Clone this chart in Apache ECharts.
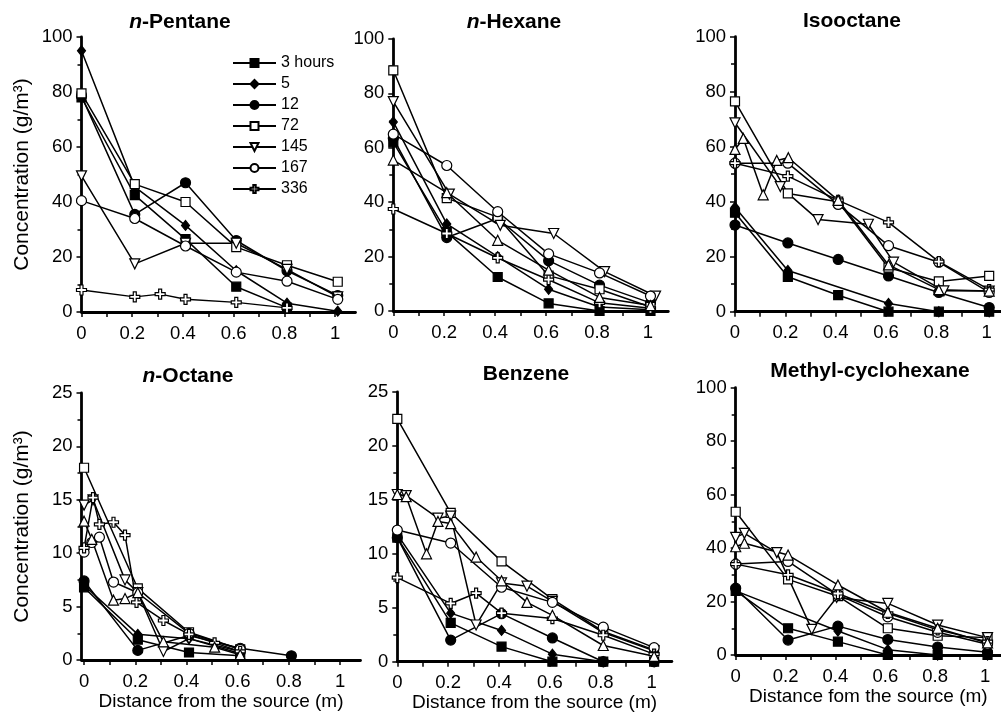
<!DOCTYPE html>
<html><head><meta charset="utf-8">
<script src="https://cdn.jsdelivr.net/npm/echarts@6/dist/echarts.min.js"></script>
<style>html,body{margin:0;padding:0;background:#fff}#c{width:1001px;height:713px}</style>
</head><body><div id="c"></div>
<script>
// ---------- tick labels ----------
const xLabelValues = [0, 0.2, 0.4, 0.6, 0.8, 1];
const xTickValues = [0, 0.1, 0.2, 0.3, 0.4, 0.5, 0.6, 0.7, 0.8, 0.9, 1.0];
const legendNames = ['3 hours', '5', '12', '72', '145', '167', '336'];
const seriesKeys = ['h3', 'h5', 'h12', 'h72', 'h145', 'h167', 'h336', 'up'];

// ---------- n-Pentane ----------
const pen_h3   = [[0,78],[0.21,42.5],[0.41,26.5],[0.61,9.2],[0.81,1.6]];
const pen_h5   = [[0,95],[0.21,45.5],[0.41,31.5],[0.61,15],[0.81,3.2],[1.01,0.3]];
const pen_h12  = [[0,78.5],[0.21,35.5],[0.41,47],[0.61,26],[0.81,15],[1.01,6]];
const pen_h72  = [[0,79.5],[0.21,46.5],[0.41,40],[0.61,23.6],[0.81,17],[1.01,11]];
const pen_h145 = [[0,49.5],[0.21,17.5],[0.41,25],[0.61,25],[0.81,15.5],[1.01,5.5]];
const pen_h167 = [[0,40.5],[0.21,34],[0.41,24],[0.61,14.5],[0.81,11.2],[1.01,4.6]];
const pen_h336 = [[0,8],[0.21,5.5],[0.31,6.5],[0.41,4.6],[0.61,3.5],[0.81,1.5]];
const pen_up   = [];

// ---------- n-Hexane ----------
const hex_h3   = [[0,62],[0.21,29],[0.41,12.5],[0.61,2.8],[0.81,0],[1.01,0]];
const hex_h5   = [[0,69.5],[0.21,32],[0.41,20],[0.61,8],[0.81,1.5],[1.01,0.5]];
const hex_h12  = [[0,63.5],[0.21,27],[0.41,34],[0.61,18.5],[0.81,9.5],[1.01,3]];
const hex_h72  = [[0,88.5],[0.21,41.5],[0.41,34.5],[0.61,13],[0.81,8],[1.01,1.5]];
const hex_h145 = [[0,77],[0.22,43],[0.42,31.5],[0.63,28.5],[0.83,14.5],[1.03,5.5]];
const hex_h167 = [[0,65],[0.21,53.5],[0.41,36.5],[0.61,21],[0.81,14],[1.01,5.5]];
const hex_h336 = [[0,37.5],[0.21,28.5],[0.41,19.5],[0.61,11.5],[0.81,3],[1.01,1]];
const hex_up   = [[0,55.5],[0.21,43.5],[0.41,26],[0.61,15],[0.81,5],[1.01,2]];

// ---------- Isooctane ----------
const iso_h3   = [[0,36],[0.21,12.7],[0.41,6],[0.61,0],[0.81,0],[1.01,0]];
const iso_h5   = [[0,38],[0.21,15],[0.61,3],[0.81,0],[1.01,0]];
const iso_h12  = [[0,31.5],[0.21,25],[0.41,19],[0.61,13],[0.81,7],[1.01,1.5]];
const iso_h72  = [[0,76.5],[0.21,43],[0.41,40],[0.61,16],[0.81,11],[1.01,13]];
const iso_h145 = [[0,68.7],[0.18,45.5],[0.33,33.5],[0.53,31.8],[0.63,18],[0.83,7.6],[1.01,7.5]];
const iso_h167 = [[0,54],[0.21,54],[0.41,39],[0.61,24],[0.81,18],[1.01,7]];
const iso_h336 = [[0,54],[0.21,49.3],[0.41,40.5],[0.61,32.5],[0.81,18.2],[1.01,8]];
const iso_up   = [[0,59],[0.033,63],[0.112,42.5],[0.166,55],[0.212,56],[0.41,40.5],[0.61,17],[0.81,8],[1.01,7.5]];

// ---------- n-Octane ----------
const oct_h3   = [[0,6.8],[0.21,1.9],[0.41,0.7],[0.61,0.4]];
const oct_h5   = [[0,7],[0.21,2.4],[0.41,2.0],[0.61,0.8]];
const oct_h12  = [[0,7.4],[0.21,0.9],[0.41,2.3],[0.61,1.1],[0.81,0.4]];
const oct_h72  = [[0,18],[0.21,6.7],[0.41,2.6],[0.61,1.0]];
const oct_h145 = [[0,14.5],[0.035,15],[0.16,7.5],[0.21,6.3],[0.31,0.8],[0.41,2.0],[0.61,0.6]];
const oct_h167 = [[0,10.1],[0.03,11],[0.06,11.5],[0.115,7.3],[0.21,6.3],[0.41,2.5],[0.61,1.0]];
const oct_h336 = [[0,10.5],[0.035,15.2],[0.06,12.7],[0.115,12.9],[0.16,11.7],[0.205,5.4],[0.31,3.7],[0.41,2.4],[0.51,1.6],[0.61,0.8]];
const oct_up   = [[0,13],[0.03,11.3],[0.115,5.6],[0.16,5.75],[0.21,6.3],[0.31,1.7],[0.51,1.2],[0.61,0.5]];

// ---------- Benzene ----------
const ben_h3   = [[0,11.5],[0.21,3.6],[0.41,1.4],[0.61,0],[0.81,0],[1.01,0]];
const ben_h5   = [[0,11.8],[0.21,4.5],[0.41,2.9],[0.61,0.7],[0.81,0],[1.01,0]];
const ben_h12  = [[0,11.5],[0.21,2.0],[0.41,4.45],[0.61,2.2],[0.81,0],[1.01,0]];
const ben_h72  = [[0,22.5],[0.21,13.8],[0.41,9.3],[0.61,5.8],[0.81,2.8],[1.01,1.1]];
const ben_h145 = [[0,15.5],[0.035,15.4],[0.16,13.3],[0.21,13.5],[0.31,3.4],[0.41,7.3],[0.51,7.0],[0.61,5.6],[0.81,2.7],[1.01,1.0]];
const ben_h167 = [[0,12.2],[0.21,11.0],[0.41,6.9],[0.61,5.5],[0.81,3.2],[1.01,1.3]];
const ben_h336 = [[0,7.8],[0.21,5.4],[0.31,6.35],[0.41,4.5],[0.61,4.0],[0.81,2.45],[1.01,0.7]];
const ben_up   = [[0,15.5],[0.035,15.3],[0.115,10],[0.16,13],[0.21,12.8],[0.31,9.7],[0.41,7.5],[0.51,5.5],[0.61,4.3],[0.81,1.5],[1.01,0.5]];

// ---------- Methyl-cyclohexane ----------
const mch_h3   = [[0,24],[0.21,10],[0.41,5],[0.61,0],[0.81,0],[1.01,0]];
const mch_h5   = [[0,24],[0.41,9],[0.61,2],[0.81,0],[1.01,0]];
const mch_h12  = [[0,25],[0.21,5.6],[0.41,10.8],[0.61,5.8],[0.81,3],[1.01,1]];
const mch_h72  = [[0,53.6],[0.21,28.3],[0.41,22],[0.61,10],[0.81,7.2],[1.01,6.5]];
const mch_h145 = [[0,44],[0.035,45.5],[0.165,38.3],[0.305,9.6],[0.405,21.5],[0.61,19.3],[0.81,11.2],[1.01,6.5]];
const mch_h167 = [[0,34],[0.21,35],[0.41,22.5],[0.61,14.3],[0.81,8.5],[1.01,4]];
const mch_h336 = [[0,34],[0.21,30],[0.41,23],[0.61,15.6],[0.81,9.4],[1.01,5]];
const mch_up   = [[0,40.5],[0.035,41.8],[0.21,37.4],[0.41,26.2],[0.61,16],[0.81,10],[1.01,4.5]];

// ---------- layout / style (not data) ----------
const FF = '"Liberation Sans", Arial, Helvetica, sans-serif';
const panels = [
  {title:'{it|n}-Pentane', tx:180, ty:12, grid:{left:81.5,top:37,width:274,height:275}, xmin:0, xmax:1.08, ymax:100, ystep:20, yname:true, xname:null,
   data:{h3:pen_h3,h5:pen_h5,h12:pen_h12,h72:pen_h72,h145:pen_h145,h167:pen_h167,h336:pen_h336,up:pen_up}},
  {title:'{it|n}-Hexane', tx:514, ty:12, grid:{left:393.3,top:39,width:275,height:272}, xmin:0, xmax:1.08, ymax:100, ystep:20, yname:false, xname:null,
   data:{h3:hex_h3,h5:hex_h5,h12:hex_h12,h72:hex_h72,h145:hex_h145,h167:hex_h167,h336:hex_h336,up:hex_up}},
  {title:'Isooctane', tx:852, ty:11, grid:{left:735,top:36.7,width:266,height:275}, xmin:0, xmax:1.057, ymax:100, ystep:20, yname:false, xname:null,
   data:{h3:iso_h3,h5:iso_h5,h12:iso_h12,h72:iso_h72,h145:iso_h145,h167:iso_h167,h336:iso_h336,up:iso_up}},
  {title:'{it|n}-Octane', tx:188, ty:366, grid:{left:81.5,top:393,width:279,height:267}, xmin:-0.01, xmax:1.08, ymax:25, ystep:5, yname:true, xname:'Distance from the source (m)', ngap:26,
   data:{h3:oct_h3,h5:oct_h5,h12:oct_h12,h72:oct_h72,h145:oct_h145,h167:oct_h167,h336:oct_h336,up:oct_up}},
  {title:'Benzene', tx:526, ty:364, grid:{left:397.3,top:392,width:274.6,height:269.7}, xmin:0, xmax:1.08, ymax:25, ystep:5, yname:false, xname:'Distance from the source (m)', ngap:26,
   data:{h3:ben_h3,h5:ben_h5,h12:ben_h12,h72:ben_h72,h145:ben_h145,h167:ben_h167,h336:ben_h336,up:ben_up}},
  {title:'Methyl-cyclohexane', tx:870, ty:361, grid:{left:735.7,top:387.7,width:265.3,height:267.3}, xmin:0, xmax:1.064, ymax:100, ystep:20, yname:false, xname:'Distance fom the source (m)', ngap:24,
   data:{h3:mch_h3,h5:mch_h5,h12:mch_h12,h72:mch_h72,h145:mch_h145,h167:mch_h167,h336:mch_h336,up:mch_up}}
];

const plusPath = 'path://M3.5,0H6.5V3.5H10V6.5H6.5V10H3.5V6.5H0V3.5H3.5Z';
const styles = {
  h3:   {name:'3 hours', symbol:'rect', size:9, fill:'#000'},
  h5:   {name:'5', symbol:'diamond', size:[8,10], fill:'#000'},
  h12:  {name:'12', symbol:'circle', size:10, fill:'#000'},
  h72:  {name:'72', symbol:'rect', size:9, fill:'#fff'},
  h145: {name:'145', symbol:'triangle', size:10, fill:'#fff', rotate:180},
  h167: {name:'167', symbol:'circle', size:10, fill:'#fff'},
  h336: {name:'336', symbol:plusPath, size:10, fill:'#fff'},
  up:   {name:'other', symbol:'triangle', size:10, fill:'#fff'}
};

const grids = [], xAxes = [], yAxes = [], series = [], titles = [];
panels.forEach((p, i) => {
  grids.push(Object.assign({outerBoundsMode:'none', containLabel:false}, p.grid));
  titles.push({
    text: p.title, left: p.tx, top: p.ty, textAlign: 'center', padding: 0,
    textStyle: {fontFamily: FF, fontSize: 21, fontWeight: 'bold', color: '#000',
      rich: {it: {fontFamily: FF, fontSize: 21, fontWeight: 'bold', fontStyle: 'italic', color: '#000'}}}
  });
  xAxes.push({
    type: 'value', gridIndex: i, min: p.xmin, max: p.xmax,
    axisLine: {show: true, onZero: false, lineStyle: {color: '#000', width: 2.8}},
    axisTick: {show: true, customValues: xTickValues, length: 5, lineStyle: {color: '#000', width: 1.5}},
    axisLabel: {customValues: xLabelValues, margin: 12, fontFamily: FF, fontSize: 18.5, color: '#000',
      formatter: v => String(Math.round(v * 10) / 10)},
    splitLine: {show: false},
    name: p.xname || '', nameLocation: 'middle', nameGap: p.ngap || 0,
    nameTextStyle: {fontFamily: FF, fontSize: 19, color: '#000'}
  });
  yAxes.push({
    type: 'value', gridIndex: i, min: 0, max: p.ymax, interval: p.ystep,
    axisLine: {show: true, onZero: false, lineStyle: {color: '#000', width: 2.8}},
    axisTick: {show: true, length: 5, lineStyle: {color: '#000', width: 1.5}},
    minorTick: {show: true, splitNumber: 2, length: 4, lineStyle: {color: '#000', width: 1.5}},
    axisLabel: {margin: 9, fontFamily: FF, fontSize: 18.5, color: '#000'},
    splitLine: {show: false},
    name: p.yname ? 'Concentration (g/m³)' : '', nameLocation: 'middle', nameGap: 49,
    nameTextStyle: {fontFamily: FF, fontSize: 21, color: '#000'}
  });
  seriesKeys.forEach(k => {
    const s = styles[k];
    const d = p.data[k];
    if (!d || !d.length) return;
    series.push({
      type: 'line', name: s.name, xAxisIndex: i, yAxisIndex: i, data: d,
      symbol: s.symbol, symbolSize: s.size, symbolRotate: s.rotate || 0,
      showAllSymbol: true, clip: false, animation: false, silent: true,
      lineStyle: {color: '#000', width: 1.5},
      itemStyle: {color: s.fill, borderColor: '#000', borderWidth: 1.2}
    });
  });
});

const chart = echarts.init(document.getElementById('c'), null, {renderer: 'canvas'});
chart.setOption({
  backgroundColor: '#fff',
  animation: false,
  title: titles,
  legend: {
    data: legendNames, orient: 'vertical', left: 232, top: 55, padding: 0,
    itemWidth: 43, itemHeight: 10, itemGap: 5,
    textStyle: {fontFamily: FF, fontSize: 16, color: '#000'},
    selectedMode: false
  },
  grid: grids, xAxis: xAxes, yAxis: yAxes, series: series
});
</script></body></html>
